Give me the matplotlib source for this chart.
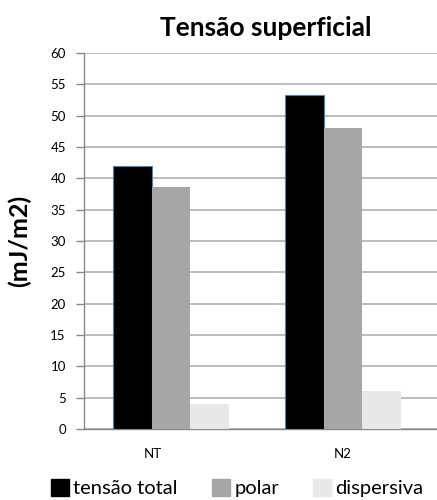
import matplotlib
matplotlib.use("Agg")
import matplotlib.pyplot as plt
import matplotlib.patches as mpatches
import numpy as np

plt.rcParams["font.family"] = ["Lato", "DejaVu Sans"]

categories = ["NT", "N2"]
series_names = ["tensão total", "polar", "dispersiva"]
tensao_total = [42.0, 53.3]
polar = [38.6, 48.0]
dispersiva = [4.0, 6.0]
y_ticks = list(range(0, 61, 5))

colors = ["#000000", "#a6a6a6", "#e8e8e8"]
edges = ["#4f81bd", "none", "none"]

fig = plt.figure(figsize=(4.37, 5.0), dpi=100)
ax = fig.add_axes([0.192, 0.142, 0.808, 0.752])

x = np.arange(len(categories))
w = 0.224
for i, (vals, c, ec) in enumerate(zip([tensao_total, polar, dispersiva], colors, edges)):
    ax.bar(x + (i - 1) * w, vals, w, color=c, edgecolor=ec,
           linewidth=0.8 if ec != "none" else 0, zorder=3)

ax.set_ylim(0, 60)
ax.set_xlim(-0.506, 1.547)
ax.set_yticks(y_ticks)
ax.set_yticklabels([str(v) for v in y_ticks], fontsize=9.5)
ax.yaxis.grid(True, color="#b0b0b0", linewidth=1.2, zorder=0)
ax.tick_params(axis="y", length=6, color="#888888", width=1, pad=7)
ax.tick_params(axis="x", length=0, pad=14)
ax.set_xticks([-0.105, 1.0])
ax.set_xticklabels(categories, fontsize=9.5)

for s in ("top", "right"):
    ax.spines[s].set_visible(False)
for s in ("left", "bottom"):
    ax.spines[s].set_color("#888888")
    ax.spines[s].set_linewidth(1.0)

ax.set_ylabel("(mJ/m2)", fontsize=18, fontweight="bold", labelpad=14)
fig.text(0.609, 0.944, "Tensão superficial", fontsize=19, fontweight="bold",
         ha="center", va="center")

handles = [mpatches.Patch(color=c, label=n) for c, n in zip(colors, series_names)]
fig.legend(handles=handles, loc="center", bbox_to_anchor=(0.543, 0.024),
           ncol=3, frameon=False, fontsize=14.5, handlelength=0.9,
           handleheight=0.9, handletextpad=0.2, columnspacing=1.7)

fig.savefig("out.png", dpi=100, facecolor="white")
